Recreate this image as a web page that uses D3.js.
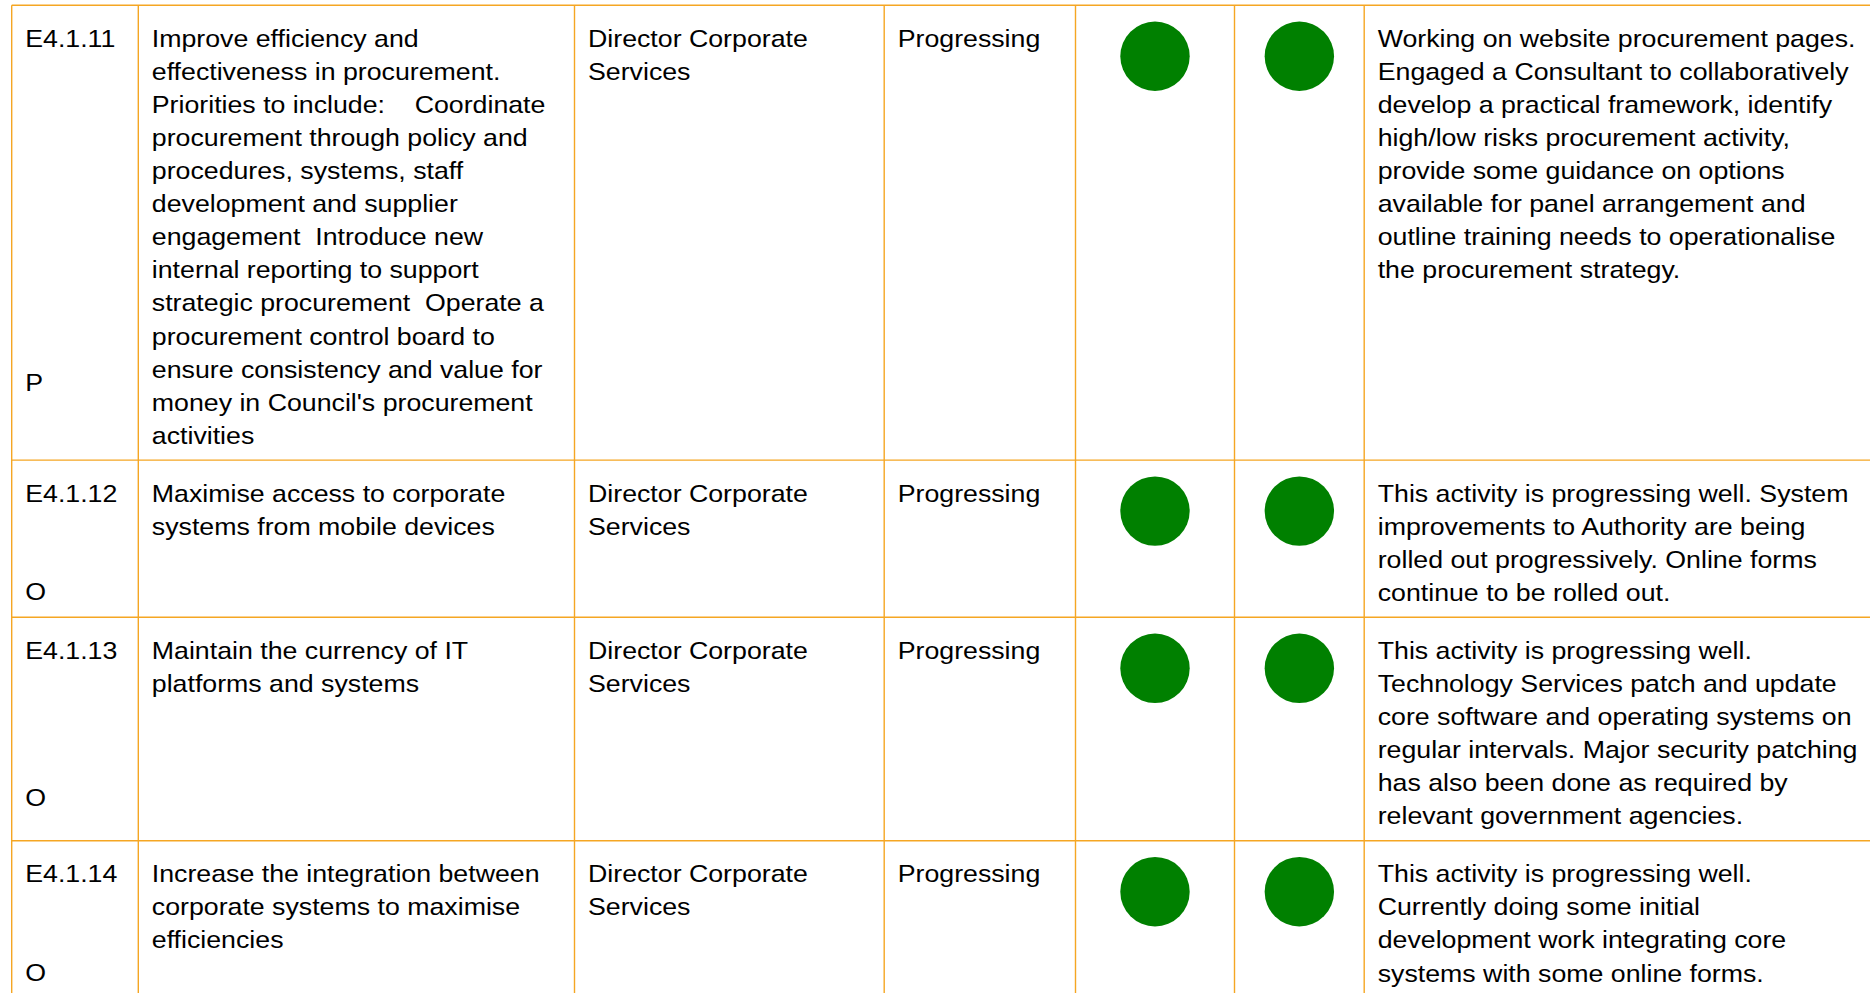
<!DOCTYPE html>
<html>
<head>
<meta charset="utf-8">
<script src="https://cdn.jsdelivr.net/npm/d3@7"></script>
<style>
  html, body { margin: 0; padding: 0; background: #ffffff; overflow: hidden; }
  svg { display: block; }
  text { font-family: "Liberation Sans", Arial, Helvetica, sans-serif; font-size: 24px; fill: #000; white-space: pre; }
</style>
</head>
<body>
<svg id="chart" width="1870" height="993"></svg>
<script>
// ---------------- data ----------------
const ids = ["E4.1.11", "E4.1.12", "E4.1.13", "E4.1.14"];
const codes = ["P", "O", "O", "O"];
const descriptions = [
  ["Improve efficiency and", "effectiveness in procurement.", "Priorities to include:    Coordinate",
   "procurement through policy and", "procedures, systems, staff", "development and supplier",
   "engagement  Introduce new", "internal reporting to support", "strategic procurement  Operate a",
   "procurement control board to", "ensure consistency and value for", "money in Council's procurement",
   "activities"],
  ["Maximise access to corporate", "systems from mobile devices"],
  ["Maintain the currency of IT", "platforms and systems"],
  ["Increase the integration between", "corporate systems to maximise", "efficiencies"]
];
const responsible = [
  ["Director Corporate", "Services"],
  ["Director Corporate", "Services"],
  ["Director Corporate", "Services"],
  ["Director Corporate", "Services"]
];
const statuses = ["Progressing", "Progressing", "Progressing", "Progressing"];
const ratingA = ["green", "green", "green", "green"];
const ratingB = ["green", "green", "green", "green"];
const comments = [
  ["Working on website procurement pages.", "Engaged a Consultant to collaboratively",
   "develop a practical framework, identify", "high/low risks procurement activity,",
   "provide some guidance on options", "available for panel arrangement and",
   "outline training needs to operationalise", "the procurement strategy."],
  ["This activity is progressing well. System", "improvements to Authority are being",
   "rolled out progressively. Online forms", "continue to be rolled out."],
  ["This activity is progressing well.", "Technology Services patch and update",
   "core software and operating systems on", "regular intervals. Major security patching",
   "has also been done as required by", "relevant government agencies."],
  ["This activity is progressing well.", "Currently doing some initial",
   "development work integrating core", "systems with some online forms."]
];

// ---------------- layout ----------------
const colEdges = [11.7, 138.3, 574.5, 884.2, 1075.5, 1234.5, 1364.2, 1900];
const tableTop = 5.3;
const lineH = 33.06;
const firstBaseline = 41.7;
const rowPad = 25;
const codeSlot = [10.4, 2.97, 4.46, 2.97]; // vertical slot (in line units) of the code letter
const textPad = 13.5;
const textStretch = 1.114;
const dotOffset = 51;
const dotR = 34.7;
const borderColor = "#F5A623";
const ratingColor = d3.scaleOrdinal().domain(["green", "amber", "red"]).range(["#008000", "#FFBF00", "#E00000"]);

const nRows = ids.length;
const lineCounts = d3.range(nRows).map(i => Math.max(descriptions[i].length, comments[i].length, responsible[i].length, 1));
const rowTops = [tableTop];
lineCounts.forEach((n, i) => rowTops.push(rowTops[i] + n * lineH + rowPad));

const x = d3.scaleOrdinal().domain(d3.range(colEdges.length)).range(colEdges);
const lineY = d3.scaleLinear().domain([0, 1]).range([firstBaseline, firstBaseline + lineH]);

const svg = d3.select("#chart");

const rows = svg.selectAll("g.row").data(d3.range(nRows)).join("g")
  .attr("class", "row")
  .attr("transform", i => `translate(0,${rowTops[i]})`);

function cellText(g, col, lines, slots) {
  const x0 = x(col) + textPad;
  g.append("g")
    .attr("transform", `translate(${x0},0) scale(${textStretch},1)`)
    .append("text")
    .selectAll("tspan").data(lines).join("tspan")
    .attr("x", 0)
    .attr("y", (d, k) => lineY(slots ? slots[k] : k))
    .text(d => d);
}

rows.each(function(i) {
  const g = d3.select(this);
  cellText(g, 0, [ids[i], codes[i]], [0, codeSlot[i]]);
  cellText(g, 1, descriptions[i]);
  cellText(g, 2, responsible[i]);
  cellText(g, 3, [statuses[i]]);
  g.append("circle")
    .attr("cx", (x(4) + x(5)) / 2).attr("cy", dotOffset).attr("r", dotR)
    .attr("fill", ratingColor(ratingA[i]));
  g.append("circle")
    .attr("cx", (x(5) + x(6)) / 2).attr("cy", dotOffset).attr("r", dotR)
    .attr("fill", ratingColor(ratingB[i]));
  cellText(g, 6, comments[i]);
});

// borders
const grid = svg.append("g").attr("fill", "none").attr("stroke", borderColor).attr("stroke-width", 1.4);
grid.selectAll("line.h").data(rowTops).join("line")
  .attr("class", "h")
  .attr("x1", colEdges[0]).attr("x2", colEdges[colEdges.length - 1])
  .attr("y1", d => d).attr("y2", d => d);
grid.selectAll("line.v").data(colEdges.slice(0, -1)).join("line")
  .attr("class", "v")
  .attr("x1", d => d).attr("x2", d => d)
  .attr("y1", tableTop).attr("y2", rowTops[rowTops.length - 1]);
</script>
</body>
</html>
